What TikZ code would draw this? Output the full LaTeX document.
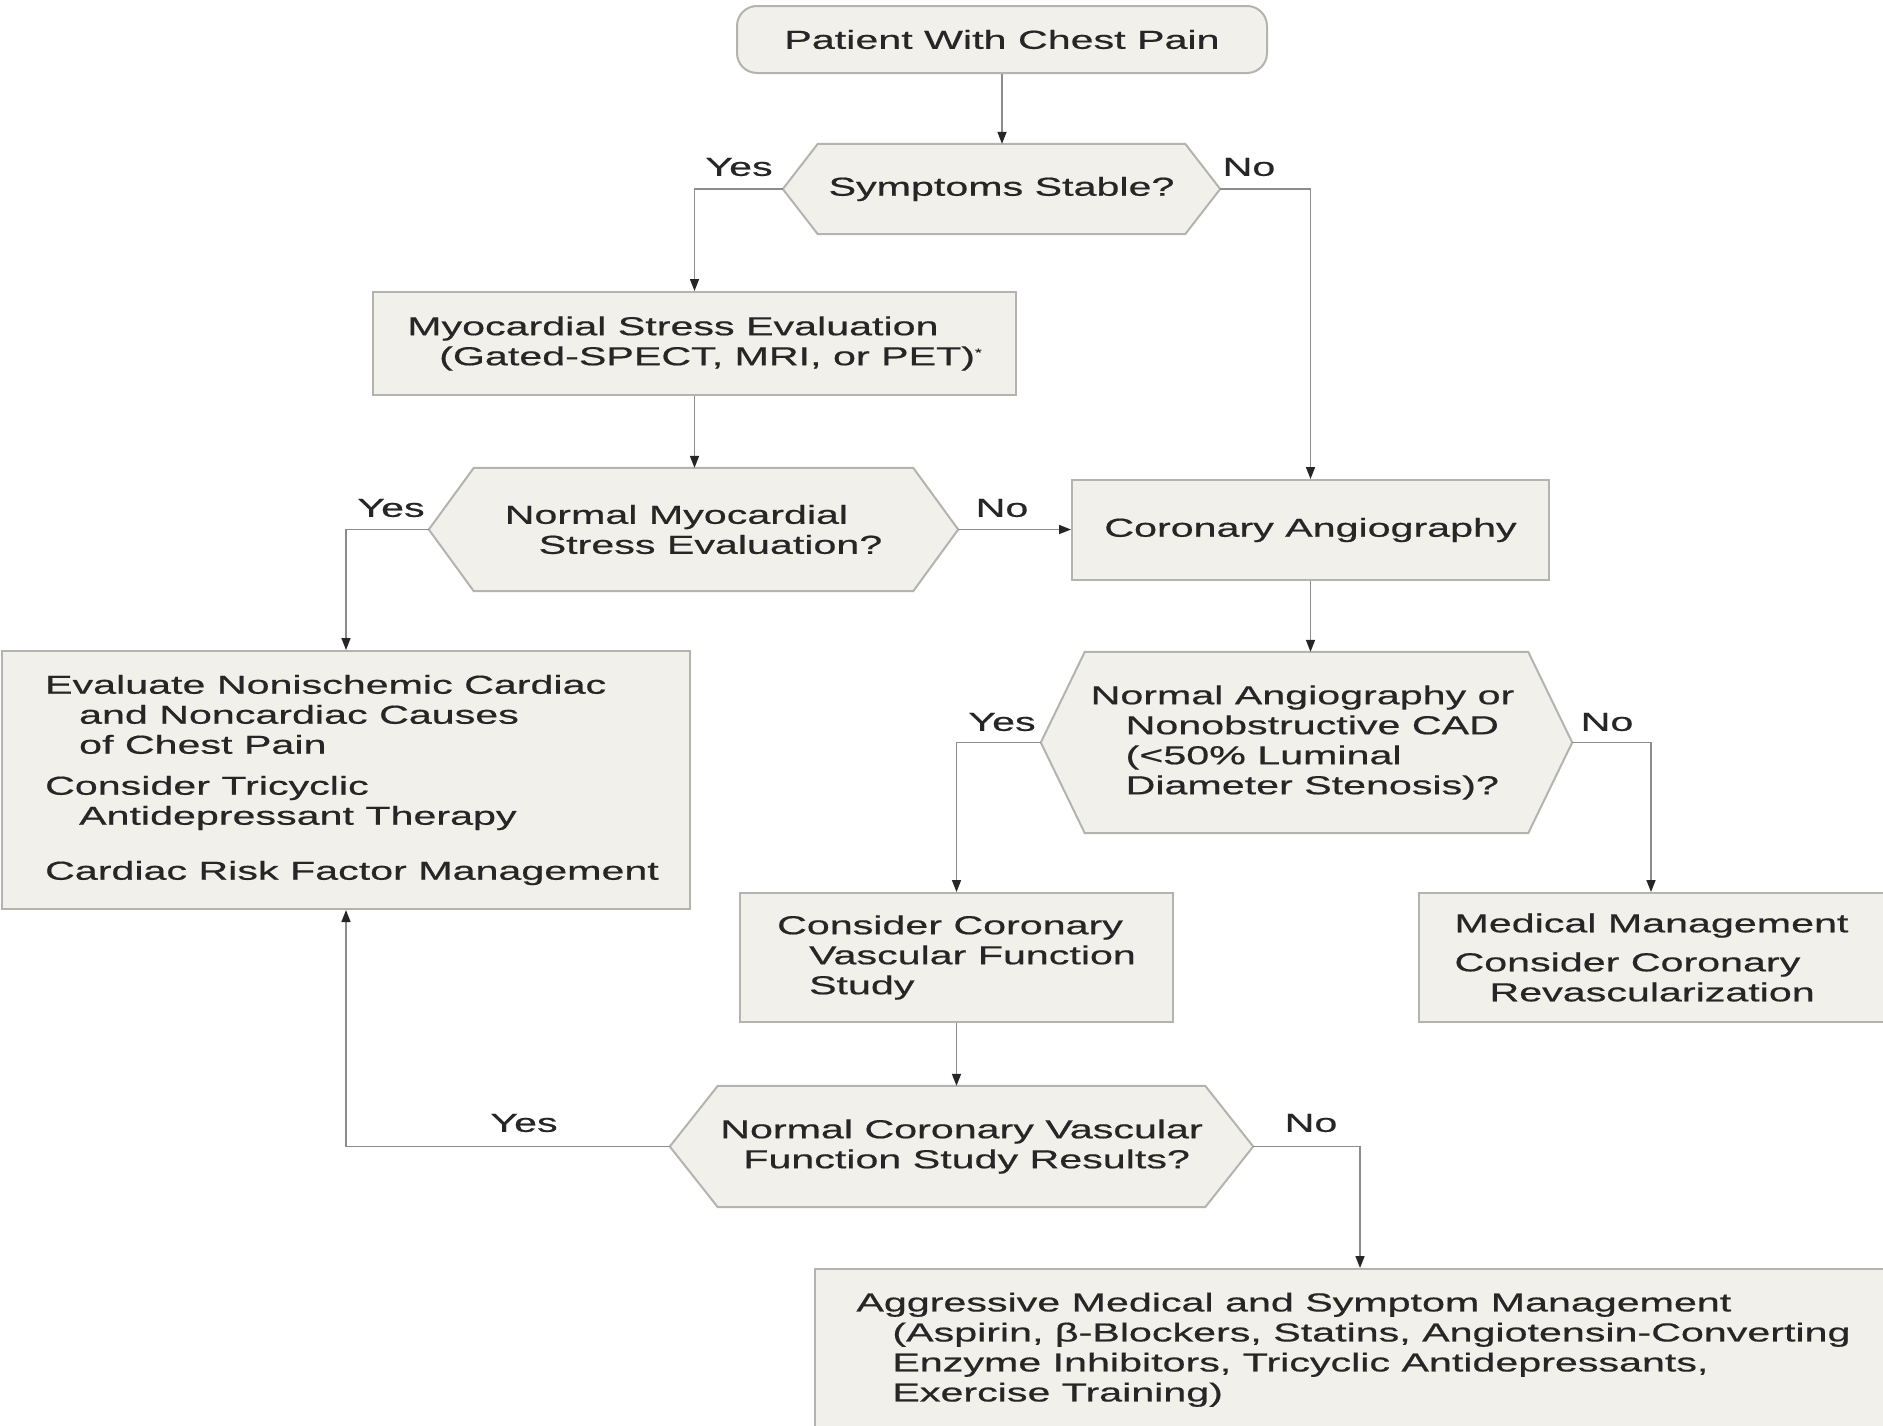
\documentclass[tikz,border=0pt]{standalone}
\usepackage{fontspec}
\setmainfont[FakeStretch=1.585, FakeBold=0.6]{Liberation Sans}
\usetikzlibrary{arrows.meta,calc,backgrounds}
\definecolor{boxfill}{HTML}{F1F0EB}
\definecolor{boxline}{HTML}{B4B4AE}
\definecolor{conncol}{HTML}{8C8C8C}
\definecolor{txt}{HTML}{262626}
\newcommand\drawhex[2]{%
  \path[fill=boxfill, draw=boxline, line width=2pt, line join=miter]
    (#1.north west) -- (#1.north east) -- ($(#1.east)+(#2,0)$) --
    (#1.south east) -- (#1.south west) -- ($(#1.west)-(#2,0)$) -- cycle;}
\tikzset{
  box/.style={draw=boxline, fill=boxfill, line width=2pt, align=left, text=txt, inner sep=0pt},
  hexnode/.style={align=left, text=txt, inner sep=0pt},
  arrowline/.style={draw=conncol, line width=1.6pt, -{Triangle[length=12pt,width=9pt,color=txt]}},
  lbl/.style={text=txt, inner sep=0pt}
}
\begin{document}
\begin{tikzpicture}[x=1pt, y=-1pt, every node/.style={font=\fontsize{26}{30}\selectfont}]
\useasboundingbox (0,0) rectangle (1883,1425);
\clip (0,0) rectangle (1883,1425);

% nodes
\node[box, rounded corners=20pt, minimum width=530pt, minimum height=67pt, align=center] (start) at (1002,39.5) {Patient With Chest Pain};
\node[hexnode, minimum width=367pt, minimum height=90pt, align=center] (h1) at (1001.5,189) {Symptoms Stable?};
\node[box, minimum width=643pt, minimum height=103pt] (myo) at (694.5,343.5) {Myocardial Stress Evaluation\\\hspace*{32pt}(Gated-SPECT, MRI, or PET)\raisebox{9pt}{\fontsize{11}{11}\selectfont *}};
\node[hexnode, minimum width=439pt, minimum height=123pt] (h2) at (693.5,529.5) {Normal Myocardial\\\hspace*{34pt}Stress Evaluation?};
\node[box, minimum width=477pt, minimum height=100pt, align=center] (ca) at (1310.5,530) {Coronary Angiography};
\node[hexnode, minimum width=443pt, minimum height=181pt] (h3) at (1306.5,742.5) {Normal Angiography or\hspace*{8pt}\\\hspace*{35pt}Nonobstructive CAD\\\hspace*{35pt}(<50\% Luminal\\\hspace*{35pt}Diameter Stenosis)?};
\node[box, minimum width=688pt, minimum height=258pt] (eval) at (346,780) {\hspace*{12pt}Evaluate Nonischemic Cardiac\\\hspace*{46pt}and Noncardiac Causes\\\hspace*{46pt}of Chest Pain\\[11pt]\hspace*{12pt}Consider Tricyclic\\\hspace*{46pt}Antidepressant Therapy\\[25pt]\hspace*{12pt}Cardiac Risk Factor Management};
\node[box, minimum width=433pt, minimum height=129pt] (ccvf) at (956.5,957.5) {Consider Coronary\\\hspace*{32pt}Vascular Function\\\hspace*{32pt}Study};
\node[box, minimum width=505pt, minimum height=129pt] (mm) at (1671.5,957.5) {Medical Management\hspace*{40pt}\\[9pt]Consider Coronary\\\hspace*{35pt}Revascularization};
\node[hexnode, minimum width=487pt, minimum height=121pt] (h4) at (961.5,1146.5) {Normal Coronary Vascular\\\hspace*{23pt}Function Study Results?};
\node[box, minimum width=1077pt, minimum height=186pt] (agg) at (1353.5,1362) {Aggressive Medical and Symptom Management\\\hspace*{36pt}(Aspirin, β-Blockers, Statins, Angiotensin-Converting\\\hspace*{36pt}Enzyme Inhibitors, Tricyclic Antidepressants,\\\hspace*{36pt}Exercise Training)\\\rule{0pt}{1pt}};

% hexagon frames
\begin{scope}[on background layer]
  \fill[white] (0,0) rectangle (1883,1425);
  \drawhex{h1}{35}
  \drawhex{h2}{45}
  \drawhex{h3}{44}
  \drawhex{h4}{48}
\end{scope}

% hexagon tips
\coordinate (h1L) at ($(h1.west)-(35,0)$);
\coordinate (h1R) at ($(h1.east)+(35,0)$);
\coordinate (h2L) at ($(h2.west)-(45,0)$);
\coordinate (h2R) at ($(h2.east)+(45,0)$);
\coordinate (h3L) at ($(h3.west)-(44,0)$);
\coordinate (h3R) at ($(h3.east)+(44,0)$);
\coordinate (h4L) at ($(h4.west)-(48,0)$);
\coordinate (h4R) at ($(h4.east)+(48,0)$);
\coordinate (mmin) at ($(mm.north west)+(233,0)$);
\coordinate (aggin) at ($(agg.north west)+(546,0)$);

% connectors
\draw[arrowline] (start.south) -- (start.south |- h1.north);
\draw[arrowline] (h1L) -| (myo.north);
\draw[arrowline] (h1R) -| (ca.north);
\draw[arrowline] (myo.south) -- (myo.south |- h2.north);
\draw[arrowline] (h2L) -| (eval.north);
\draw[arrowline] (h2R) -- (h2R -| ca.west);
\draw[arrowline] (ca.south) -- (ca.south |- h3.north);
\draw[arrowline] (h3L) -| (ccvf.north);
\draw[arrowline] (h3R) -| (mmin);
\draw[arrowline] (ccvf.south) -- (ccvf.south |- h4.north);
\draw[arrowline] (h4L) -| (eval.south);
\draw[arrowline] (h4R) -| (aggin);

% labels
\node[lbl] (y1) at (739,167) {Yes};
\node[lbl] (n1) at (1249,167) {No};
\node[lbl] (y2) at (391,508) {Yes};
\node[lbl] (n2) at (1002,508) {No};
\node[lbl] (y3) at (1002,722) {Yes};
\node[lbl] (n3) at (1607,722) {No};
\node[lbl] (y4) at (524,1123) {Yes};
\node[lbl] (n4) at (1311,1123) {No};
\end{tikzpicture}
\end{document}
